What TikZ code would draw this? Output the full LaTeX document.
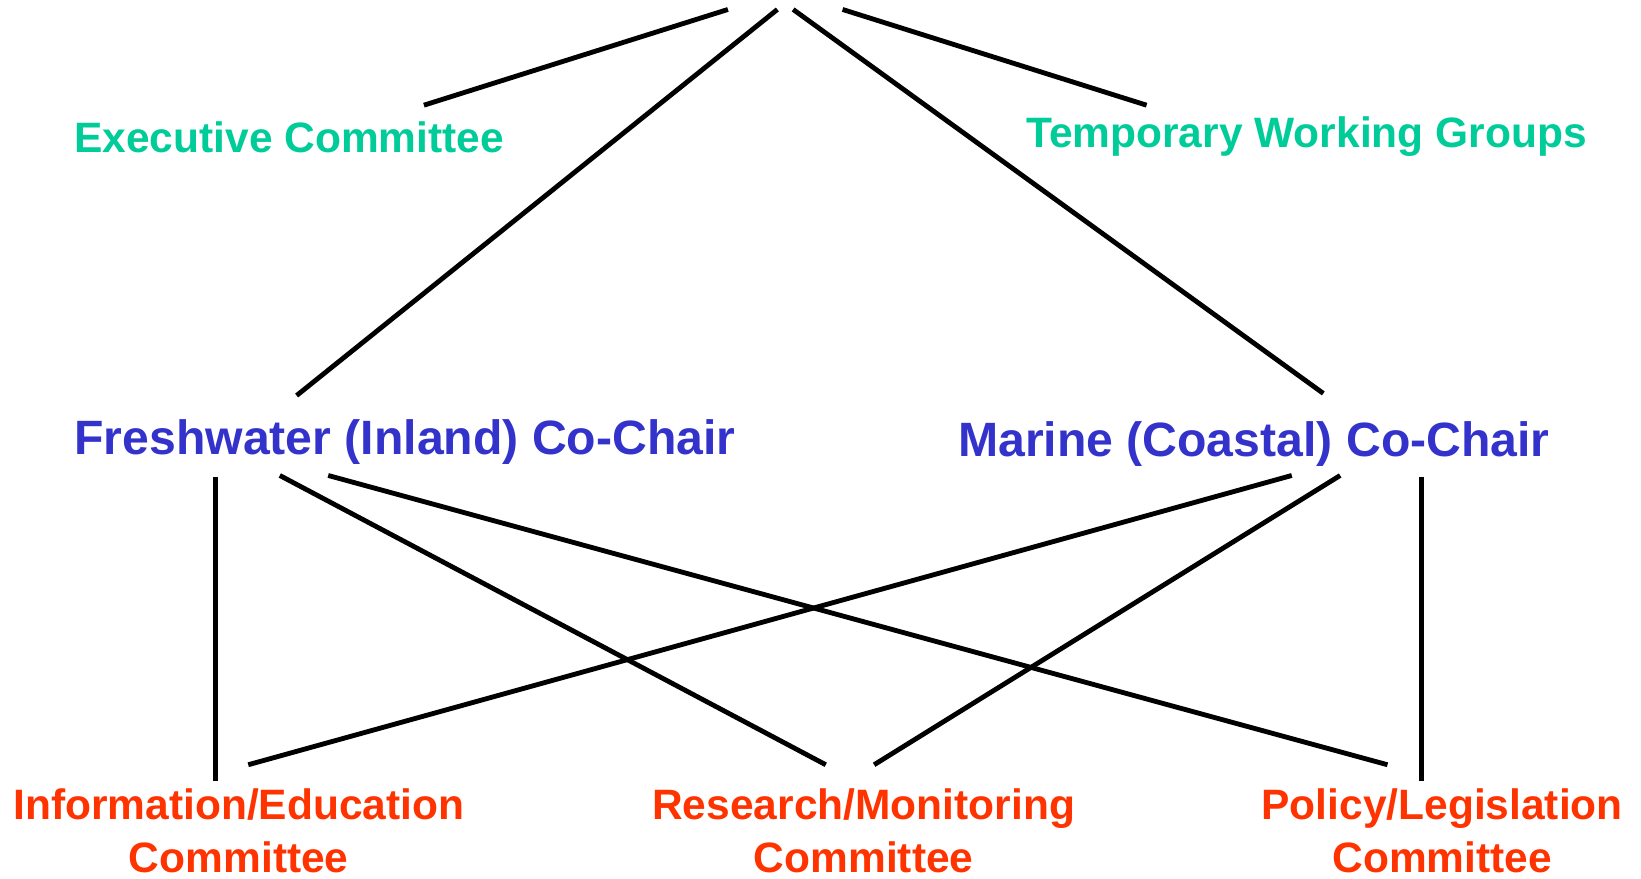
\documentclass[tikz,border=0pt]{standalone}
\usepackage{fontspec}
\setmainfont{Liberation Sans}
\usetikzlibrary{
  chains,
  scopes
}
\definecolor{execgreen}{RGB}{0,204,153}
\definecolor{chairblue}{RGB}{51,51,204}
\definecolor{cttered}{RGB}{255,51,0}

\begin{document}
\begin{tikzpicture}[x=0.5pt,y=-0.5pt,
      group/.style={
         inner sep=0pt,
         anchor=base,
         text=execgreen,
         font=\bfseries\fontsize{20.2}{24}\selectfont
      },
      chair/.style={
         inner sep=0pt,
         anchor=base,
         text=chairblue,
         font=\bfseries\fontsize{22.9}{27}\selectfont
      },
      committee/.style={
         inner sep=0pt,
         anchor=base,
         align=center,
         text=cttered,
         font=\bfseries\fontsize{20.2}{25}\selectfont
      },
      point/.style={coordinate},
      every join/.style={draw=black,line width=2.3pt}
    ]
    \useasboundingbox (0,0) rectangle (1560,835);
    % texts
    \node (exec)   [group]     at (275,145)  {Executive Committee};
    \node (temp)   [group]     at (1242,140) {Temporary Working Groups};
    \node (fresh)  [chair]     at (385,432)  {Freshwater (Inland) Co-Chair};
    \node (marine) [chair]     at (1192,434) {Marine (Coastal) Co-Chair};
    \node (info)   [committee] at (227,829)  {Information/Education\\Committee};
    \node (resrch) [committee] at (821,829)  {Research/Monitoring\\Committee};
    \node (policy) [committee] at (1371,829) {Policy/Legislation\\Committee};
    % line ends
    \coordinate (t1) at (692,9);
    \coordinate (t2) at (739,9);
    \coordinate (t3) at (754,9);
    \coordinate (t4) at (801,9);
    \coordinate (exec-up) at (403,100);
    \coordinate (temp-up) at (1090,100);
    \coordinate (fresh-up) at (282,376);
    \coordinate (marine-up) at (1258,374);
    \coordinate (fresh-d1) at (205,453);
    \coordinate (fresh-d2) at (266,452);
    \coordinate (fresh-d3) at (312,452);
    \coordinate (marine-d1) at (1228,452);
    \coordinate (marine-d2) at (1274,452);
    \coordinate (marine-d3) at (1351,453);
    \coordinate (info-up1) at (205,742);
    \coordinate (info-up2) at (236,727);
    \coordinate (resrch-up1) at (785,727);
    \coordinate (resrch-up2) at (831,727);
    \coordinate (policy-up1) at (1319,727);
    \coordinate (policy-up2) at (1351,742);
  { [start chain]
       \chainin (t1);
       \chainin (exec-up)    [join];
  }
  { [start chain]
       \chainin (t2);
       \chainin (fresh-up)   [join];
  }
  { [start chain]
       \chainin (t3);
       \chainin (marine-up)  [join];
  }
  { [start chain]
       \chainin (t4);
       \chainin (temp-up)    [join];
  }
  { [start chain]
       \chainin (fresh-d1);
       \chainin (info-up1)   [join];
  }
  { [start chain]
       \chainin (fresh-d2);
       \chainin (resrch-up1) [join];
  }
  { [start chain]
       \chainin (fresh-d3);
       \chainin (policy-up1) [join];
  }
  { [start chain]
       \chainin (marine-d1);
       \chainin (info-up2)   [join];
  }
  { [start chain]
       \chainin (marine-d2);
       \chainin (resrch-up2) [join];
  }
  { [start chain]
       \chainin (marine-d3);
       \chainin (policy-up2) [join];
  }
\end{tikzpicture}
\end{document}
